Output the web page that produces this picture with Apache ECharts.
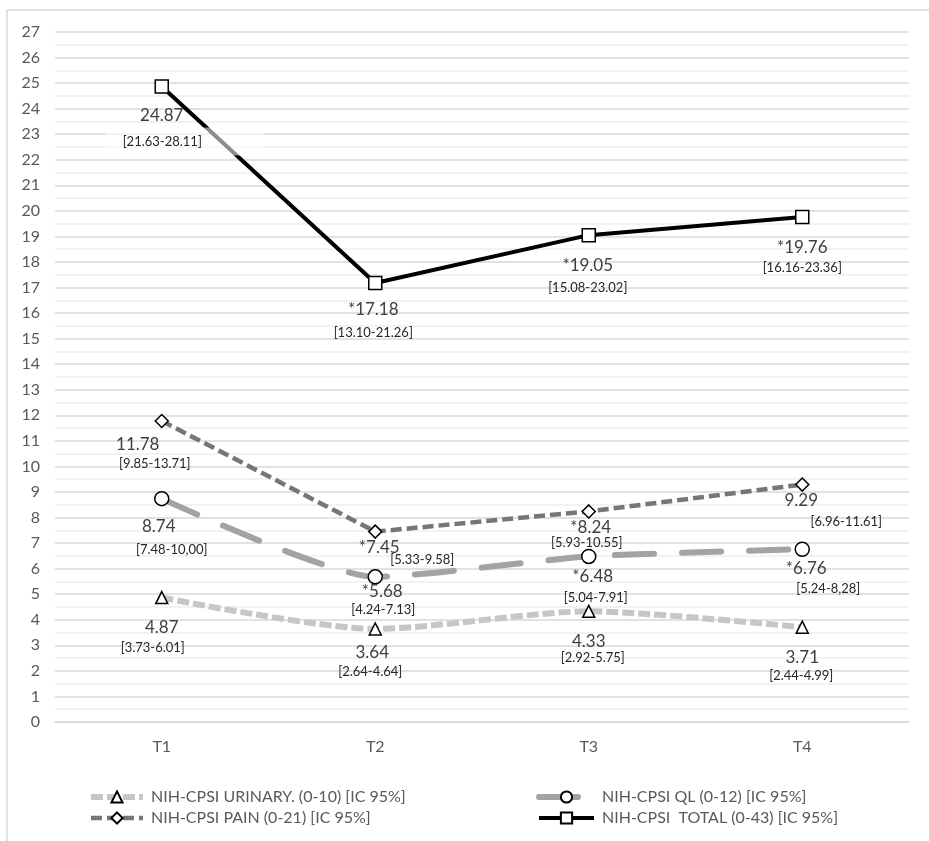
<!DOCTYPE html>
<html>
<head>
<meta charset="utf-8">
<title>NIH-CPSI</title>
<script src="https://cdn.jsdelivr.net/npm/echarts@6/dist/echarts.min.js"></script>
<style>
  html, body { margin: 0; padding: 0; background: #ffffff; }
  #chart { width: 929px; height: 841px; }
</style>
</head>
<body>
<div id="chart"></div>
<script>
// Time points
const categories = ['T1', 'T2', 'T3', 'T4'];

// Series names
const urinaryName = 'NIH-CPSI URINARY. (0-10) [IC 95%]';
const qlName = 'NIH-CPSI QL (0-12) [IC 95%]';
const painName = 'NIH-CPSI PAIN (0-21) [IC 95%]';
const totalName = 'NIH-CPSI  TOTAL (0-43) [IC 95%]';

// Mean scores
const urinaryMeans = [4.87, 3.64, 4.33, 3.71];
const qlMeans = [8.74, 5.68, 6.48, 6.76];
const painMeans = [11.78, 7.45, 8.24, 9.29];
const totalMeans = [24.87, 17.18, 19.05, 19.76];

// 95% confidence intervals
const urinaryCI = ['3.73-6.01', '2.64-4.64', '2.92-5.75', '2.44-4.99'];
const qlCI = ['7.48-10,00', '4.24-7.13', '5.04-7.91', '5.24-8,28'];
const painCI = ['9.85-13.71', '5.33-9.58', '5.93-10.55', '6.96-11.61'];
const totalCI = ['21.63-28.11', '13.10-21.26', '15.08-23.02', '16.16-23.36'];

// Significance marks (vs T1)
const urinarySig = ['', '', '', ''];
const qlSig = ['', '*', '*', '*'];
const painSig = ['', '*', '*', ''];
const totalSig = ['', '*', '*', '*'];

// Y axis ticks
const yMin = 0;
const yMax = 27;
const yStep = 1;

// Label placement (pixel offsets from each marker)
const valueOffsets = {
  urinary: [[0, 30], [-3, 24], [0, 30], [0, 30]],
  ql: [[-3, 28], [7, 15], [4, 20], [4, 19]],
  pain: [[-24, 24], [4, 16], [2, 16], [-1, 16]],
  total: [[0, 29], [-2, 27], [-1, 30], [0, 30]]
};
const ciOffsets = {
  urinary: [[-9, 50], [-5, 43], [4, 46], [-1, 49]],
  ql: [[10, 51], [8, 33], [7, 41], [26, 40]],
  pain: [[-7, 43], [47, 28], [-2, 31], [44, 37]],
  total: [[0, 55], [-2, 50], [-1, 53], [0, 51]]
};

const FONT = 'Lato, "Open Sans", sans-serif';

function valueItems(values, sig, offsets) {
  return values.map((v, i) => ({
    value: v,
    label: {
      show: true,
      position: 'inside',
      offset: offsets[i],
      formatter: sig[i] + v.toFixed(2),
      fontFamily: FONT,
      fontSize: 17,
      color: '#404040'
    }
  }));
}

function ciItems(values, ci, offsets, boxed) {
  return values.map((v, i) => {
    const label = {
      show: true,
      position: 'inside',
      offset: offsets[i],
      formatter: '[' + ci[i] + ']',
      fontFamily: FONT,
      fontSize: 13,
      color: '#262626'
    };
    if (boxed && boxed[i]) {
      // translucent label box in front of the line
      label.backgroundColor = 'rgba(255,255,255,0.55)';
      label.padding = [15, 62, 0, 17];
      label.offset = [offsets[i][0] + 23, offsets[i][1]];
    }
    return { value: v, label: label };
  });
}

function mainSeries(name, values, sig, offsets, symbol, symbolSize, lineStyle, smooth, z) {
  return {
    name: name,
    type: 'line',
    data: valueItems(values, sig, offsets),
    symbol: symbol,
    symbolSize: symbolSize,
    showSymbol: true,
    smooth: smooth,
    z: z,
    itemStyle: { color: '#ffffff', borderColor: '#000000', borderWidth: 1.5 },
    lineStyle: lineStyle,
    emphasis: { disabled: true },
    animation: false
  };
}

function ciSeries(values, ci, offsets, boxed) {
  return {
    name: '_ci',
    type: 'line',
    data: ciItems(values, ci, offsets, boxed),
    symbol: 'circle',
    symbolSize: 1,
    itemStyle: { color: 'rgba(0,0,0,0)', borderWidth: 0 },
    lineStyle: { width: 0, opacity: 0 },
    z: 20,
    silent: true,
    emphasis: { disabled: true },
    animation: false
  };
}

const chart = echarts.init(document.getElementById('chart'), null, { renderer: 'canvas' });

const legendText = { fontFamily: FONT, fontSize: 16, color: '#595959', padding: [0, 0, 0, 3] };

function legendColumn(names, left, iconWidth) {
  return {
    data: names,
    orient: 'vertical',
    left: left,
    top: 789,
    height: 60,
    padding: 0,
    itemWidth: iconWidth,
    itemHeight: 14,
    itemGap: 5,
    lineStyle: { width: 'inherit' },
    textStyle: legendText,
    selectedMode: false
  };
}

chart.setOption({
  backgroundColor: '#ffffff',
  animation: false,
  graphic: [{
    type: 'rect',
    shape: { x: 7, y: 10, width: 960, height: 880 },
    style: { fill: 'none', stroke: '#d9d9d9', lineWidth: 1.5 },
    silent: true,
    z: -10
  }],
  grid: { left: 55, right: 20, top: 32, bottom: 119, containLabel: false },
  legend: [
    legendColumn([urinaryName, painName], 88, 52),
    legendColumn([qlName, totalName], 536, 55)
  ],
  xAxis: {
    type: 'category',
    data: categories,
    boundaryGap: true,
    axisLine: { show: true, lineStyle: { color: '#d9d9d9', width: 1.5 } },
    axisTick: { show: false },
    axisLabel: { fontFamily: FONT, fontSize: 16, color: '#595959', margin: 17 },
    splitLine: { show: false }
  },
  yAxis: {
    type: 'value',
    min: yMin,
    max: yMax,
    interval: yStep,
    axisLine: { show: false },
    axisTick: { show: false },
    axisLabel: { fontFamily: FONT, fontSize: 16, color: '#595959', margin: 15 },
    splitLine: { show: true, lineStyle: { color: '#d9d9d9', width: 1.5 } },
    minorTick: { show: false, splitNumber: 2 },
    minorSplitLine: { show: true, lineStyle: { color: '#eeeeee', width: 1.5 } }
  },
  series: [
    mainSeries(urinaryName, urinaryMeans, urinarySig, valueOffsets.urinary, 'triangle', 12,
      { color: '#c6c6c6', width: 6, type: [12, 4] }, 0.25, 3),
    mainSeries(qlName, qlMeans, qlSig, valueOffsets.ql, 'circle', 14,
      { color: '#a3a3a3', width: 6, type: [39, 28], cap: 'round' }, 0.2, 4),
    mainSeries(painName, painMeans, painSig, valueOffsets.pain, 'diamond', 13,
      { color: '#767676', width: 4.5, type: [11, 5] }, false, 5),
    mainSeries(totalName, totalMeans, totalSig, valueOffsets.total, 'rect', 13,
      { color: '#000000', width: 4 }, false, 6),
    ciSeries(urinaryMeans, urinaryCI, ciOffsets.urinary),
    ciSeries(qlMeans, qlCI, ciOffsets.ql),
    ciSeries(painMeans, painCI, ciOffsets.pain),
    ciSeries(totalMeans, totalCI, ciOffsets.total, [true, false, false, false])
  ]
});
</script>
</body>
</html>
